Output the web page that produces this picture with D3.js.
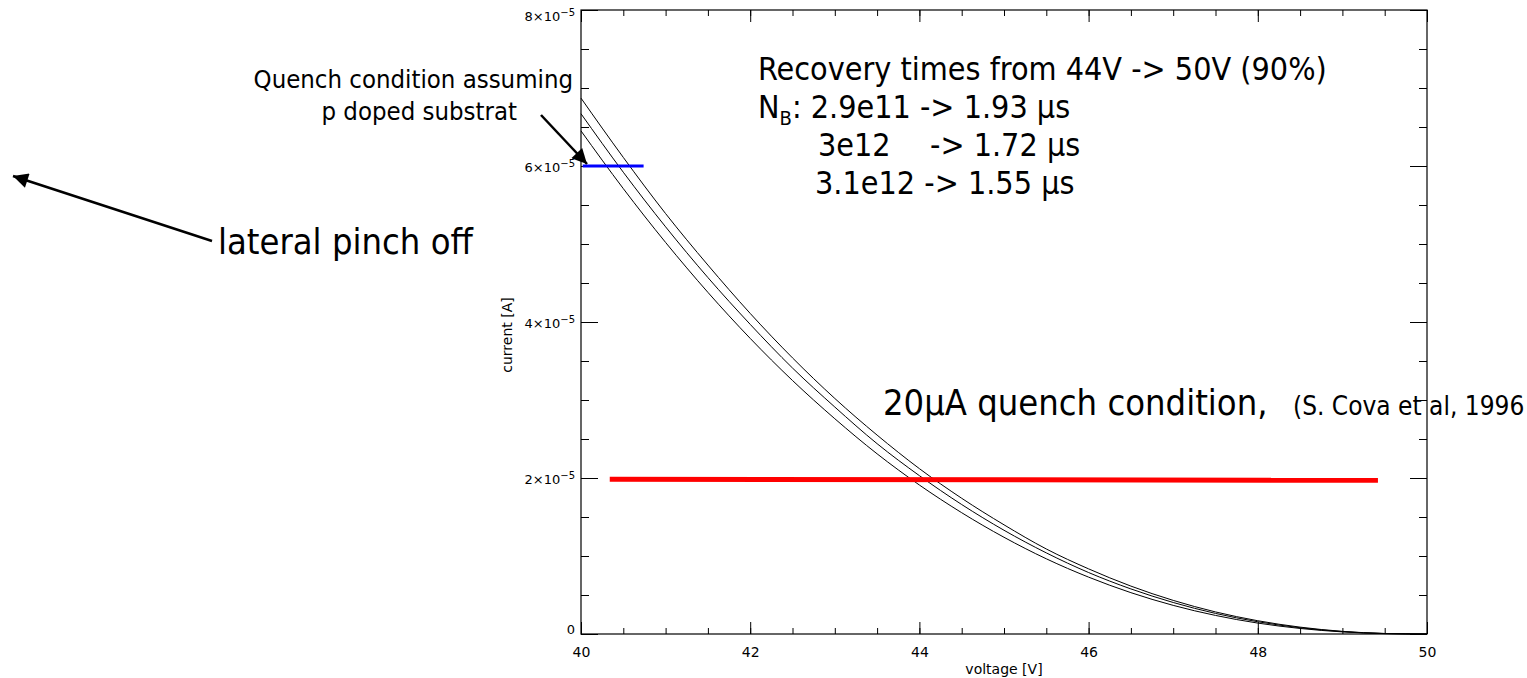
<!DOCTYPE html>
<html>
<head>
<meta charset="utf-8">
<script src="https://cdn.jsdelivr.net/npm/d3@7"></script>
<style>
  body { margin: 0; background: #fff; }
  .ann { font-family: "DejaVu Sans Condensed", "DejaVu Sans", sans-serif; font-stretch: condensed; fill: #000; }
  .tick text, .lbl { font-family: "DejaVu Sans", sans-serif; fill: #000; }
</style>
</head>
<body>
<div id="chart"></div>
<script>
// voltage [V] and current [1e-5 A] for the three N_B curves
var voltage   = [40, 40.5, 41, 41.5, 42, 42.5, 43, 43.5, 44, 44.5, 45, 45.5, 46, 46.5, 47, 47.5, 48, 48.5, 49, 49.5, 50];
var curveLow  = [6.45, 5.71, 5.02, 4.38, 3.79, 3.25, 2.76, 2.31, 1.91, 1.555, 1.24, 0.964, 0.729, 0.530, 0.367, 0.238, 0.140, 0.071, 0.027, 0.005, 0];
var curveMid  = [6.67, 5.92, 5.22, 4.57, 3.97, 3.41, 2.91, 2.44, 2.03, 1.66, 1.33, 1.04, 0.788, 0.578, 0.404, 0.264, 0.157, 0.080, 0.031, 0.006, 0];
var curveHigh = [6.87, 6.11, 5.39, 4.73, 4.11, 3.54, 3.02, 2.55, 2.12, 1.74, 1.40, 1.09, 0.835, 0.614, 0.431, 0.283, 0.170, 0.088, 0.034, 0.007, 0];

// quench condition lines
var redV = [40.34, 49.42], redI = [1.985, 1.97];   // 20uA
var blueV = [40.02, 40.74], blueI = [6.0, 6.0];    // p doped substrat

var xMajor = [40, 42, 44, 46, 48, 50];
var yMajor = [0, 2, 4, 6, 8];
var xMinor = d3.range(40, 50.01, 0.5);
var yMinor = d3.range(0, 8.01, 0.5);

var recoveryLines = ["Recovery times from 44V -> 50V (90%)", ": 2.9e11 -> 1.93 \u00b5s", "3e12", "-> 1.72 \u00b5s", "3.1e12 -> 1.55 \u00b5s"];

function init(){
    var w = 1527, h = 678;
    var svg = d3.select("#chart").append("svg").attr("width", w).attr("height", h);

    var x = d3.scaleLinear().domain([40, 50]).range([581, 1427]);
    var y = d3.scaleLinear().domain([0, 8]).range([634, 10]);

    // frame
    svg.append("rect").attr("x", x(40)).attr("y", y(8))
        .attr("width", x(50) - x(40)).attr("height", y(0) - y(8))
        .attr("fill", "none").attr("stroke", "#000").attr("stroke-width", 1.2);

    function ticks(axis, tr){
        var g = svg.append("g").attr("transform", tr).call(axis);
        g.select(".domain").remove();
        g.selectAll("line").attr("stroke", "#000");
        return g;
    }
    // minor ticks, all four sides
    ticks(d3.axisBottom(x).tickValues(xMinor).tickSizeInner(-6).tickSizeOuter(0).tickFormat(""), "translate(0," + y(0) + ")");
    ticks(d3.axisTop(x).tickValues(xMinor).tickSizeInner(-6).tickSizeOuter(0).tickFormat(""), "translate(0," + y(8) + ")");
    ticks(d3.axisLeft(y).tickValues(yMinor).tickSizeInner(-8).tickSizeOuter(0).tickFormat(""), "translate(" + x(40) + ",0)");
    ticks(d3.axisRight(y).tickValues(yMinor).tickSizeInner(-8).tickSizeOuter(0).tickFormat(""), "translate(" + x(50) + ",0)");
    // major ticks
    var xb = ticks(d3.axisBottom(x).tickValues(xMajor).tickSizeInner(-12).tickSizeOuter(0).tickPadding(13).tickFormat(d3.format("d")), "translate(0," + y(0) + ")");
    xb.selectAll("text").attr("font-size", 14).attr("dy", null).attr("y", 23);
    ticks(d3.axisTop(x).tickValues(xMajor).tickSizeInner(-12).tickSizeOuter(0).tickFormat(""), "translate(0," + y(8) + ")");
    var yl = ticks(d3.axisLeft(y).tickValues(yMajor).tickSizeInner(-17).tickSizeOuter(0).tickPadding(6).tickFormat(""), "translate(" + x(40) + ",0)");
    ticks(d3.axisRight(y).tickValues(yMajor).tickSizeInner(-17).tickSizeOuter(0).tickFormat(""), "translate(" + x(50) + ",0)");

    yl.selectAll(".tick text").each(function(d){
        var t = d3.select(this).attr("font-size", 13).attr("dy", null)
            .attr("y", d === 0 ? -1 : (d === 8 ? 10 : 5));
        if (d === 0) { t.text("0"); return; }
        t.append("tspan").text(d + "\u00d710");
        t.append("tspan").attr("font-size", 10).attr("dy", -5).text("\u22125");
    });

    // axis titles
    svg.append("text").attr("class", "lbl").attr("x", (x(40) + x(50)) / 2).attr("y", 674)
        .attr("text-anchor", "middle").attr("font-size", 14).text("voltage [V]");
    svg.append("text").attr("class", "lbl").attr("transform", "translate(512," + 335 + ") rotate(-90)")
        .attr("text-anchor", "middle").attr("font-size", 14).text("current [A]");

    // curves
    var line = d3.line().x(function(d){ return x(d[0]); }).y(function(d){ return y(d[1]); }).curve(d3.curveMonotoneX);
    [curveLow, curveMid, curveHigh].forEach(function(c){
        svg.append("path").datum(d3.zip(voltage, c)).attr("d", line)
            .attr("fill", "none").attr("stroke", "#000").attr("stroke-width", 1);
    });

    var straight = d3.line().x(function(d){ return x(d[0]); }).y(function(d){ return y(d[1]); });
    svg.append("path").datum(d3.zip(redV, redI)).attr("d", straight)
        .attr("stroke", "#ff0000").attr("stroke-width", 5).attr("fill", "none");
    svg.append("path").datum(d3.zip(blueV, blueI)).attr("d", straight)
        .attr("stroke", "#0000ff").attr("stroke-width", 3).attr("fill", "none");

    // arrows
    svg.append("defs").append("marker").attr("id", "head")
        .attr("viewBox", "0 0 10 10").attr("refX", 10).attr("refY", 5)
        .attr("markerWidth", 20).attr("markerHeight", 15).attr("markerUnits", "userSpaceOnUse")
        .attr("orient", "auto")
        .append("path").attr("d", "M0,0L10,5L0,10Z").attr("fill", "#000");
    svg.append("line").attr("x1", 212).attr("y1", 241).attr("x2", 13).attr("y2", 176)
        .attr("stroke", "#000").attr("stroke-width", 2.5).attr("marker-end", "url(#head)");
    svg.append("line").attr("x1", 541).attr("y1", 115).attr("x2", 587).attr("y2", 164)
        .attr("stroke", "#000").attr("stroke-width", 2.5).attr("marker-end", "url(#head)");

    // annotations
    svg.append("text").attr("class", "ann").attr("x", 573).attr("y", 88).attr("text-anchor", "end")
        .attr("font-size", 25.5).text("Quench condition assuming");
    svg.append("text").attr("class", "ann").attr("x", 517).attr("y", 120).attr("text-anchor", "end")
        .attr("font-size", 25.5).text("p doped substrat");
    svg.append("text").attr("class", "ann").attr("x", 218).attr("y", 254)
        .attr("font-size", 36).text("lateral pinch off");

    svg.append("text").attr("class", "ann").attr("x", 758).attr("y", 80).attr("font-size", 32).text(recoveryLines[0]);
    var l2 = svg.append("text").attr("class", "ann").attr("x", 758).attr("y", 118).attr("font-size", 32);
    l2.append("tspan").text("N");
    l2.append("tspan").attr("font-size", 20).attr("dy", 7).text("B");
    l2.append("tspan").attr("dy", -7).text(recoveryLines[1]);
    var l3 = svg.append("text").attr("class", "ann").attr("y", 156).attr("font-size", 32);
    l3.append("tspan").attr("x", 818).text(recoveryLines[2]);
    l3.append("tspan").attr("x", 930).text(recoveryLines[3]);
    svg.append("text").attr("class", "ann").attr("x", 815).attr("y", 194).attr("font-size", 32).text(recoveryLines[4]);

    svg.append("text").attr("class", "ann").attr("x", 883).attr("y", 415).attr("font-size", 36).text("20\u00b5A quench condition,");
    svg.append("text").attr("class", "ann").attr("x", 1293).attr("y", 415).attr("font-size", 26).text("(S. Cova et al, 1996");
}
window.onload = init;
</script>
</body>
</html>
